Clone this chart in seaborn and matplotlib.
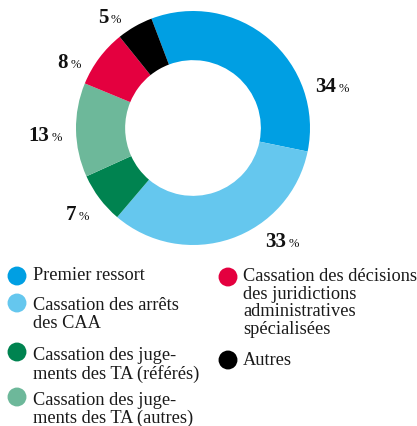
import matplotlib
matplotlib.use("Agg")
import matplotlib.pyplot as plt
import seaborn as sns

categories = [
    "Premier ressort",
    "Cassation des arrêts\ndes CAA",
    "Cassation des juge-\nments des TA (référés)",
    "Cassation des juge-\nments des TA (autres)",
    "Cassation des décisions\ndes juridictions\nadministratives\nspécialisées",
    "Autres",
]
values = [34, 33, 7, 13, 8, 5]
colors = ["#009FE3", "#65C7EE", "#008350", "#6DB89A", "#E4003F", "#000000"]

sns.set_theme(style="white")
plt.rcParams["font.family"] = ["Liberation Serif", "DejaVu Serif"]

W, H = 417, 426
fig = plt.figure(figsize=(W / 100, H / 100), dpi=100)

# donut axes (pixel geometry: center (193,128), radius 117)
cx, cy, R = 193, 128, 117
ax = fig.add_axes([(cx - R) / W, 1 - (cy + R) / H, 2 * R / W, 2 * R / H])
wedges, _ = ax.pie(values, colors=colors, startangle=110.8, counterclock=False,
                   radius=1.0, wedgeprops=dict(width=0.42, edgecolor="none"))
ax.set_xlim(-1, 1)
ax.set_ylim(-1, 1)
ax.set_aspect("equal")
ax.axis("off")

# value labels: anchor at junction between number and % sign (pixels)
label_anchor = [(338, 92), (288, 247), (77.5, 220), (50.5, 141), (69.5, 68), (110, 23)]

# overlay axes in pixel coordinates for labels and legend
ov = fig.add_axes([0, 0, 1, 1])
ov.set_xlim(0, W)
ov.set_ylim(H, 0)
ov.axis("off")
ov.patch.set_alpha(0)

for v, (px, py) in zip(values, label_anchor):
    ov.text(px - 1.5, py, f"{v}", ha="right", va="baseline", fontsize=15,
            fontweight="bold", color="#111111")
    ov.text(px + 1, py, "%", ha="left", va="baseline", fontsize=9, color="#111111")

# legend entries (pixels): circle center, text x, first baseline
legend_pos = [
    (17, 276, 33, 280),
    (17, 303, 33, 310),
    (17, 352, 33, 360),
    (17, 397, 33, 405),
    (228, 277, 243, 281),
    (228, 360, 243, 365),
]
for lab, col, (mx, my, tx, ty) in zip(categories, colors, legend_pos):
    ov.scatter([mx], [my], s=185, color=col, edgecolor="none", zorder=3)
    ov.text(tx, ty - 13, lab, ha="left", va="top", fontsize=13.2, color="#1a1a1a",
            linespacing=1.05)

fig.savefig("out.png", dpi=100, facecolor="white")
